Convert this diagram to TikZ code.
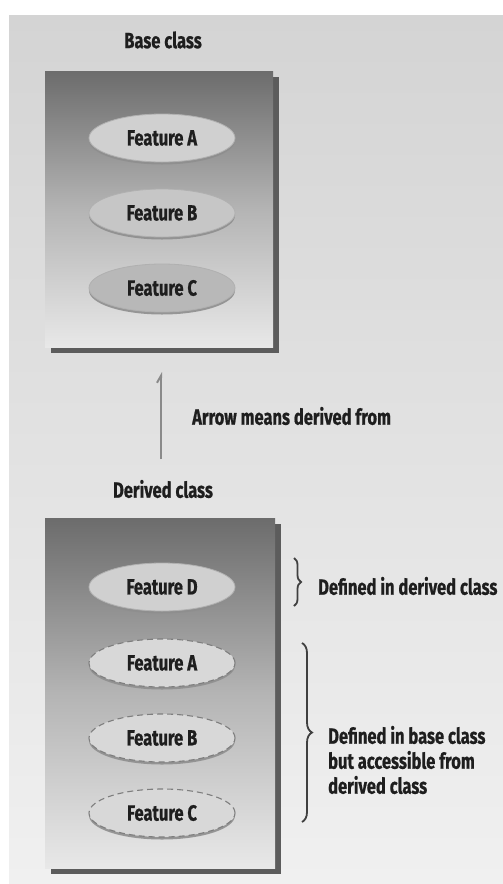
\documentclass[tikz,border=0pt]{standalone}
\usepackage{fontspec}
\setmainfont{Fira Sans}[FakeStretch=0.75, BoldFeatures={FakeBold=0.7}]
\usetikzlibrary{shapes.geometric,shadows,arrows.meta,decorations.pathreplacing}

\definecolor{bgtop}{HTML}{D4D4D4}
\definecolor{bgbot}{HTML}{F0F0F0}
\definecolor{boxtop}{HTML}{6C6C6C}
\definecolor{boxmid}{HTML}{B4B4B4}
\definecolor{boxbot}{HTML}{E8E8E8}
\definecolor{boxshadow}{HTML}{5C5C5C}
\definecolor{inkgray}{HTML}{1E1E1E}
\definecolor{rimgray}{HTML}{8E8E8E}
\definecolor{dashgray}{HTML}{7E7E7E}
\definecolor{featA}{HTML}{D0D0D0}
\definecolor{featB}{HTML}{C6C6C6}
\definecolor{featC}{HTML}{B8B8B8}
\definecolor{featDash}{HTML}{D8D8D8}
\definecolor{arrowgray}{HTML}{8A8A8A}

\tikzset{
  txt/.style={font=\bfseries\fontsize{22}{25}\selectfont, text=inkgray, inner sep=0pt},
  classbox/.style={rectangle, inner sep=0pt, top color=boxtop, bottom color=boxbot,
    middle color=boxmid, draw=none,
    drop shadow={shadow xshift=6pt, shadow yshift=-6pt, fill=boxshadow, opacity=1}},
  feature/.style={ellipse, txt, minimum width=146pt, minimum height=48pt,
    draw=rimgray!70, line width=0.8pt,
    drop shadow={shadow xshift=0pt, shadow yshift=-2.5pt, fill=rimgray, opacity=0.9}},
  inherited/.style={feature, fill=featDash, draw=dashgray, line width=1.1pt,
    dash pattern=on 6pt off 4pt},
  bracebar/.style={draw=inkgray!85, line width=1.8pt,
    decorate, decoration={brace, amplitude=#1}},
  derivarrow/.style={draw=arrowgray, line width=2pt, -{Straight Barb[left, length=7pt, width=8pt]}}
}

\begin{document}
\begin{tikzpicture}[x=1pt, y=-1pt]
\useasboundingbox (0,0) rectangle (503,884);
\fill[white] (0,0) rectangle (503,884);
\shade[top color=bgtop, bottom color=bgbot] (9,15) rectangle (503,884);

% base class
\node[txt] (basetitle) at (163,40) {Base class};
\node[classbox, minimum width=228pt, minimum height=276pt] (basebox) at (159,209) {};
\node[feature, fill=featA] (bA) at (162,138) {Feature A};
\node[feature, fill=featB] (bB) at (162,213) {Feature B};
\node[feature, fill=featC] (bC) at (162,288) {Feature C};

% derivation arrow
\node[txt] (dertitle) at (163,489) {Derived class};
\coordinate (arrtail) at (161,459);
\coordinate (arrhead) at (161,372);
\draw[derivarrow] (arrtail) -- (arrhead);
\node[txt, anchor=west] (arrowlbl) at (192,416) {Arrow means derived from};

% derived class
\node[classbox, minimum width=230pt, minimum height=350pt] (derbox) at (160,693) {};
\node[feature, fill=featA] (dD) at (162,587) {Feature D};
\node[inherited] (dA) at (162,663) {Feature A};
\node[inherited] (dB) at (162,738) {Feature B};
\node[inherited] (dC) at (162,813) {Feature C};

% braces and notes
\coordinate (br1top) at (294,558);
\coordinate (br1bot) at (294,606);
\draw[bracebar=7pt] (br1top) -- (br1bot);
\node[txt, anchor=west] (ownnote) at (318,586) {Defined in derived class};

\coordinate (br2top) at (302,643);
\coordinate (br2bot) at (302,822);
\draw[bracebar=10pt] (br2top) -- (br2bot);
\node[txt, anchor=west, align=left] (inhnote) at (328,760)
  {Defined in base class\\but accessible from\\derived class};
\end{tikzpicture}
\end{document}
